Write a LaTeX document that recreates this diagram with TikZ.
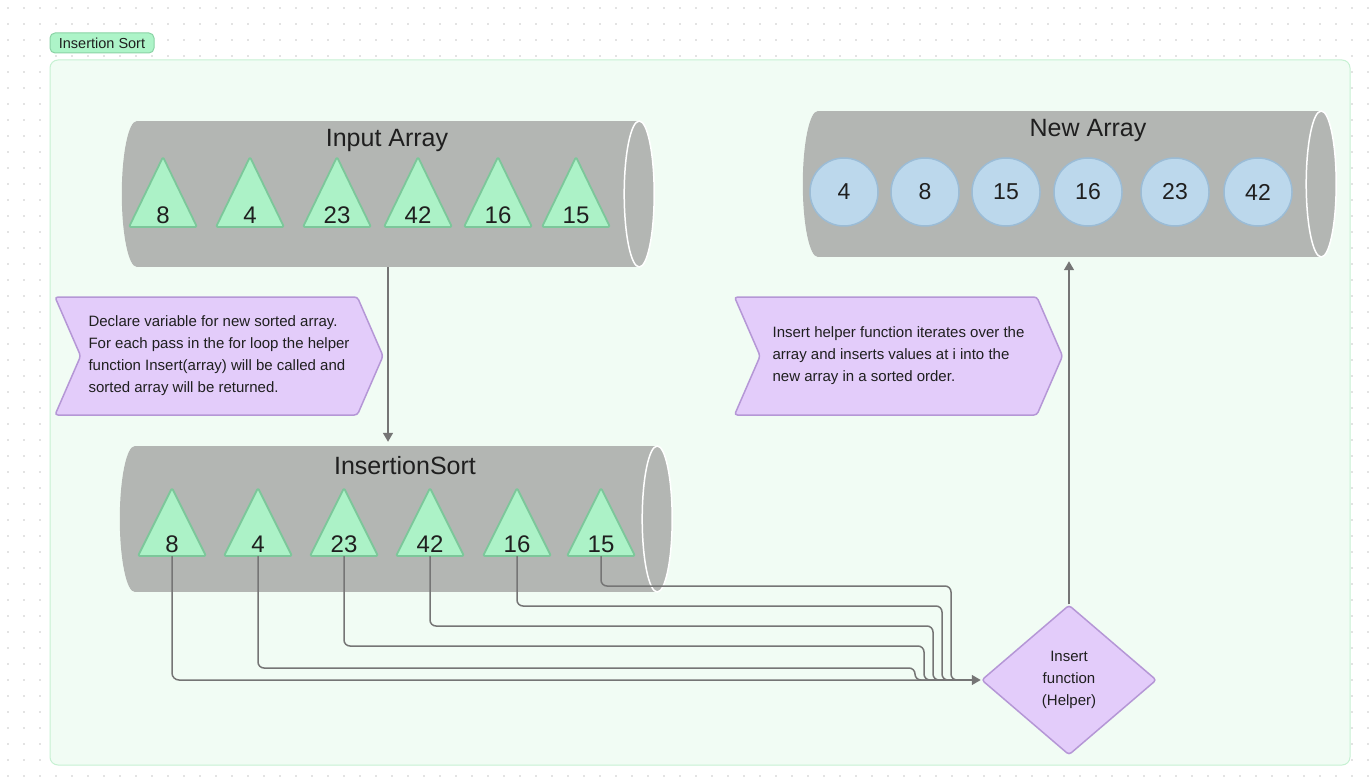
\documentclass[tikz,border=0pt]{standalone}
\usepackage{fontspec}
\setmainfont{Liberation Sans}
\usetikzlibrary{shapes.geometric,shapes.symbols,arrows.meta}
\definecolor{framefill}{HTML}{F1FCF4}
\definecolor{frameline}{HTML}{C6F1D2}
\definecolor{tagfill}{HTML}{ADF4C8}
\definecolor{tagline}{HTML}{8AD3A5}
\definecolor{cylgrey}{HTML}{B3B6B3}
\definecolor{trifill}{HTML}{ACF2C7}
\definecolor{triline}{HTML}{7CC79A}
\definecolor{ballfill}{HTML}{BCD8EC}
\definecolor{ballline}{HTML}{9BBCD6}
\definecolor{notefill}{HTML}{E3CCFA}
\definecolor{noteline}{HTML}{B597D6}
\definecolor{linegrey}{HTML}{757575}
\definecolor{ink}{HTML}{1F1F1F}
\definecolor{dotgrey}{HTML}{C8C8C8}
\tikzset{
  hull/.style={minimum width=#1, minimum height=146pt, inner sep=0pt},
  cylend/.style={fill=cylgrey, draw=white, line width=1.5pt},
  title/.style={font=\fontsize{25}{25}\selectfont, text=ink},
  tri/.style={fill=trifill, draw=triline, line width=1.8pt, line join=round, rounded corners=2pt},
  num/.style={font=\fontsize{24}{24}\selectfont, text=ink, inner sep=0pt},
  ball/.style={circle, fill=ballfill, draw=ballline, line width=1.5pt, minimum size=68pt, inner sep=0pt,
    font=\fontsize{23}{23}\selectfont, text=ink},
  note/.style={signal, signal to=east, signal from=west, signal pointer angle=133, fill=notefill,
    draw=noteline, line width=1.5pt, rounded corners=3pt, minimum width=328pt, minimum height=118pt,
    align=left, font=\fontsize{15}{22}\selectfont, text=ink, inner sep=2pt},
  choice/.style={diamond, aspect=1.16, minimum width=175pt, minimum height=150pt, fill=notefill,
    draw=noteline, line width=1.5pt, rounded corners=3pt, align=center, inner sep=0pt,
    font=\fontsize{15}{22}\selectfont, text=ink},
  conn/.style={draw=linegrey, line width=1.5pt, rounded corners=7pt},
  arr/.style={-{Triangle[width=10pt,length=9pt]}}
}
\begin{document}
\begin{tikzpicture}[x=1pt,y=-1pt]
\useasboundingbox (0,0) rectangle (1370,778);
\fill[white] (0,0) rectangle (1370,778);
% dotted canvas
\foreach \i in {0,...,85}
  \foreach \j in {0,...,48}
    \fill[dotgrey] (8+16*\i,8+16*\j) circle (0.8pt);
\draw[fill=framefill, draw=frameline, line width=1pt, rounded corners=8pt] (50,60) rectangle (1350,765);
\node[fill=tagfill, draw=tagline, line width=1pt, rounded corners=5pt, minimum width=104pt,
  minimum height=20pt, inner sep=0pt, font=\fontsize{14.5}{14.5}\selectfont, text=ink] (tag) at (102,43) {Insertion Sort};

% input array
\node[hull=532pt] (inp) at (388,194) {};
\fill[cylgrey] ([xshift=15pt]inp.north west) rectangle ([xshift=-15pt]inp.south east);
\fill[cylgrey] ([xshift=15pt]inp.west) ellipse [x radius=15, y radius=73];
\draw[cylend] ([xshift=-15pt]inp.east) ellipse [x radius=15, y radius=73];
\node[title] (inpT) at (387,140) {Input Array};
\foreach \x/\v [count=\i] in {163/8,250/4,337/23,418/42,498/16,576/15} {
  \draw[tri] (\x-34,227) -- (\x,157) -- (\x+34,227) -- cycle;
  \node[num] (in\i) at (\x,215) {\v};
}

% insertion sort
\node[hull=552pt] (srt) at (396,519) {};
\fill[cylgrey] ([xshift=15pt]srt.north west) rectangle ([xshift=-15pt]srt.south east);
\fill[cylgrey] ([xshift=15pt]srt.west) ellipse [x radius=15, y radius=73];
\draw[cylend] ([xshift=-15pt]srt.east) ellipse [x radius=15, y radius=73];
\node[title] (srtT) at (405,466) {InsertionSort};
\foreach \x/\v [count=\i] in {172/8,258/4,344/23,430/42,517/16,601/15} {
  \draw[tri] (\x-34,556) -- (\x,488) -- (\x+34,556) -- cycle;
  \node[num] (s\i) at (\x,544) {\v};
  \coordinate (sb\i) at (\x,556);
}

% new array
\node[hull=533pt] (new) at (1069.5,184) {};
\fill[cylgrey] ([xshift=15pt]new.north west) rectangle ([xshift=-15pt]new.south east);
\fill[cylgrey] ([xshift=15pt]new.west) ellipse [x radius=15, y radius=73];
\draw[cylend] ([xshift=-15pt]new.east) ellipse [x radius=15, y radius=73];
\node[title] (newT) at (1088,130) {New Array};
\foreach \x/\v [count=\i] in {844/4,925/8,1006/15,1088/16,1175/23,1258/42}
  \node[ball] (nw\i) at (\x,192) {\v};

% notes and helper
\node[note] (n1) at (219,356) {Declare variable for new sorted array.\\For each pass in the for loop the helper\\function Insert(array) will be called and\\sorted array will be returned.};
\node[note] (n2) at (898.5,356) {Insert helper function iterates over the\\array and inserts values at i into the\\new array in a sorted order.};
\node[choice] (ins) at (1069,680) {Insert\\function\\(Helper)};

% connectors
\draw[conn, arr, shorten >=4pt] (inp.south) -- (inp.south |- srt.north);
\draw[conn, arr, shorten >=4pt] (ins.north) -- (ins.north |- new.south);
\draw[conn, arr] (sb1) |- (ins.west);
\foreach \i/\y/\x in {2/668/915,3/646/924,4/626/933,5/606/942,6/586/951}
  \draw[conn, rounded corners=6pt] (sb\i) |- (\x,\y) |- ([xshift=-6pt]ins.west);
\end{tikzpicture}
\end{document}
